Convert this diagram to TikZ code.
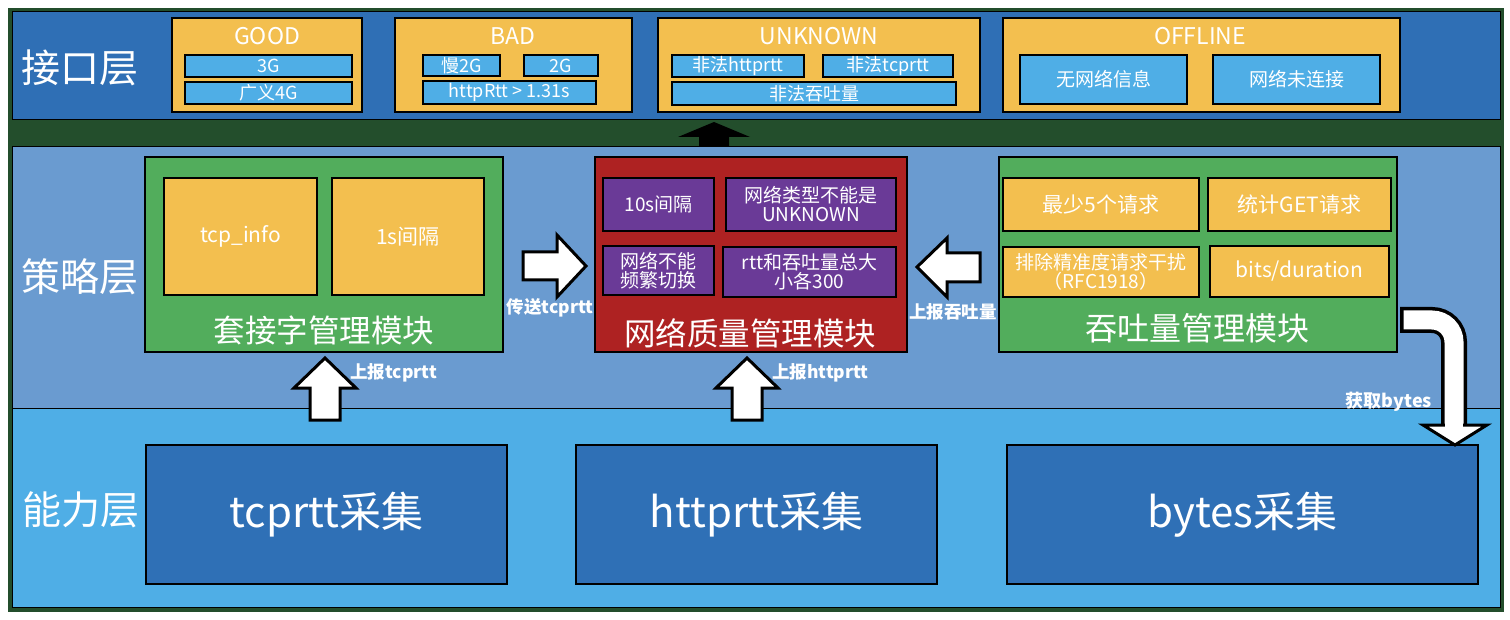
\documentclass[tikz,border=0pt]{standalone}
\usepackage{fontspec}
\setmainfont{Noto Sans CJK SC}
\definecolor{framegreen}{HTML}{234E2C}
\definecolor{topblue}{HTML}{2F6FB5}
\definecolor{midblue}{HTML}{6A9BD0}
\definecolor{lowblue}{HTML}{4FAEE6}
\definecolor{yel}{HTML}{F3BF4F}
\definecolor{grn}{HTML}{52AD5C}
\definecolor{redb}{HTML}{AE2222}
\definecolor{purp}{HTML}{6A3A97}
\definecolor{darkb}{HTML}{2F70B6}
\newcommand{\fs}[1]{\fontsize{#1}{#1}\selectfont}
\tikzset{
  box/.style={draw=black, line width=1.5pt, inner sep=0pt, text=white, align=center},
  wtxt/.style={text=white, inner sep=0pt, align=center},
  lbl/.style={text=white, inner sep=0pt, font=\fs{17.5}\bfseries},
  blockarrow/.style={fill=white, draw=black, line width=3pt, line join=miter},
}
\begin{document}
\begin{tikzpicture}[x=1pt,y=-1pt]
\useasboundingbox (0,0) rectangle (1510,620);
\fill[white] (0,0) rectangle (1510,620);
% frame and bands
\fill[framegreen] (8,8) rectangle (1504,612);
\node[box, fill=topblue, minimum width=1488, minimum height=108, line width=1pt] (topband) at (756,66) {};
\node[box, fill=midblue, minimum width=1488, minimum height=261, line width=1pt] (midband) at (756,277.5) {};
\node[box, fill=lowblue, minimum width=1488, minimum height=199, line width=1pt] (lowband) at (756,507.5) {};
\node[wtxt, font=\fs{39}] (l1) at (80,68) {接口层};
\node[wtxt, font=\fs{39}] (l2) at (80,277) {策略层};
\node[wtxt, font=\fs{39}] (l3) at (81,510) {能力层};

% top boxes
\node[box, fill=yel, minimum width=190, minimum height=94] (good) at (267,65) {};
\node[wtxt, font=\fs{23}] (goodt) at (267,36) {GOOD};
\node[box, fill=lowblue, minimum width=167, minimum height=22, font=\fs{18}] (g1) at (268.5,66) {3G};
\node[box, fill=lowblue, minimum width=167, minimum height=22, font=\fs{18}] (g2) at (268.5,93) {广义4G};

\node[box, fill=yel, minimum width=237, minimum height=94] (bad) at (513.5,65) {};
\node[wtxt, font=\fs{23}] (badt) at (513,36) {BAD};
\node[box, fill=lowblue, minimum width=77, minimum height=21, font=\fs{18}] (b1) at (461.5,65.5) {慢2G};
\node[box, fill=lowblue, minimum width=74, minimum height=21, font=\fs{18}] (b2) at (561,65.5) {2G};
\node[box, fill=lowblue, minimum width=173, minimum height=23, font=\fs{18}] (b3) at (509.5,92.5) {httpRtt > 1.31s};

\node[box, fill=yel, minimum width=322, minimum height=94] (unk) at (819,65) {};
\node[wtxt, font=\fs{23}] (unkt) at (819,36) {UNKNOWN};
\node[box, fill=lowblue, minimum width=132, minimum height=22, font=\fs{18}] (u1) at (738,66) {非法httprtt};
\node[box, fill=lowblue, minimum width=130, minimum height=22, font=\fs{18}] (u2) at (888,66) {非法tcprtt};
\node[box, fill=lowblue, minimum width=284, minimum height=23, font=\fs{18}] (u3) at (814,93.5) {非法吞吐量};

\node[box, fill=yel, minimum width=397, minimum height=94] (off) at (1201.5,65) {};
\node[wtxt, font=\fs{23}] (offt) at (1200,36) {OFFLINE};
\node[box, fill=lowblue, minimum width=167, minimum height=49, font=\fs{19}] (o1) at (1103.5,79.5) {无网络信息};
\node[box, fill=lowblue, minimum width=167, minimum height=49, font=\fs{19}] (o2) at (1296.5,79.5) {网络未连接};

% middle modules
\node[box, fill=grn, minimum width=358, minimum height=195] (sock) at (324,254.5) {};
\node[box, fill=yel, minimum width=153, minimum height=117, font=\fs{21}] (s1) at (240.5,236.5) {tcp\_info};
\node[box, fill=yel, minimum width=152, minimum height=117, font=\fs{21}] (s2) at (408,236.5) {1s间隔};
\node[wtxt, font=\fs{31.5}] (sockt) at (324,330) {套接字管理模块};

\node[box, fill=redb, minimum width=312, minimum height=195] (net) at (751,254.5) {};
\node[box, fill=purp, minimum width=111, minimum height=53, font=\fs{19}] (n1) at (658.5,204.5) {10s间隔};
\node[box, fill=purp, minimum width=170, minimum height=53, font=\fs{19}] (n2) at (811,204.5) {网络类型不能是\\UNKNOWN};
\node[box, fill=purp, minimum width=111, minimum height=49, font=\fs{19}] (n3) at (658.5,270.5) {网络不能\\频繁切换};
\node[box, fill=purp, minimum width=173, minimum height=50, font=\fs{19}] (n4) at (809.5,272) {rtt和吞吐量总大\\小各300};
\node[wtxt, font=\fs{31.5}] (nett) at (750,333) {网络质量管理模块};

\node[box, fill=grn, minimum width=398, minimum height=195] (thr) at (1198,254.5) {};
\node[box, fill=yel, minimum width=196, minimum height=53, font=\fs{21}] (t1) at (1101,204.5) {最少5个请求};
\node[box, fill=yel, minimum width=183, minimum height=53, font=\fs{21}] (t2) at (1299.5,204.5) {统计GET请求};
\node[box, fill=yel, minimum width=196, minimum height=50, font=\fs{19}] (t3) at (1101,272) {排除精准度请求干扰\\（RFC1918）};
\node[box, fill=yel, minimum width=179, minimum height=51, font=\fs{21}] (t4) at (1299.5,271.5) {bits/duration};
\node[wtxt, font=\fs{32}] (thrt) at (1197,328) {吞吐量管理模块};

% bottom boxes
\node[box, fill=darkb, minimum width=361, minimum height=139, font=\fs{42}] (c1) at (326.5,514.5) {tcprtt采集};
\node[box, fill=darkb, minimum width=361, minimum height=139, font=\fs{42}] (c2) at (756.5,514.5) {httprtt采集};
\node[box, fill=darkb, minimum width=471, minimum height=139, font=\fs{42}] (c3) at (1242.5,514.5) {bytes采集};

% black up arrow
\fill[black] (714,122) -- (750,137) -- (729,137) -- (729,147) -- (699,147) -- (699,137) -- (678,137) -- cycle;

% up arrows
\draw[blockarrow] (325,358) -- (356,388) -- (340,388) -- (340,420) -- (310,420) -- (310,388) -- (294,388) -- cycle;
\node[lbl, anchor=west] (a1) at (350,373) {上报tcprtt};
\draw[blockarrow] (747,358) -- (778,388) -- (762,388) -- (762,420) -- (732,420) -- (732,388) -- (716,388) -- cycle;
\node[lbl, anchor=west] (a2) at (772,373) {上报httprtt};

% right arrow
\draw[blockarrow] (586,266) -- (557,235) -- (557,252) -- (523,252) -- (523,280) -- (557,280) -- (557,297) -- cycle;
\node[lbl] (a3) at (550,308) {传送tcprtt};
% left arrow
\draw[blockarrow] (917,267) -- (947,238) -- (947,253) -- (980,253) -- (980,282) -- (947,282) -- (947,297) -- cycle;
\node[lbl] (a4) at (953,312) {上报吞吐量};

% curved arrow
\draw[black, line width=26pt, rounded corners=22pt] (1400,320) -- (1454,320) -- (1454,430);
\draw[white, line width=19pt, rounded corners=22pt] (1403.5,320) -- (1454,320) -- (1454,431);
\draw[blockarrow] (1455,445) -- (1487,425) -- (1423,425) -- cycle;
\fill[white] (1445,420) rectangle (1463,428);
\node[lbl, font=\fs{18}\bfseries] (a5) at (1389,402) {获取bytes};
\end{tikzpicture}
\end{document}
